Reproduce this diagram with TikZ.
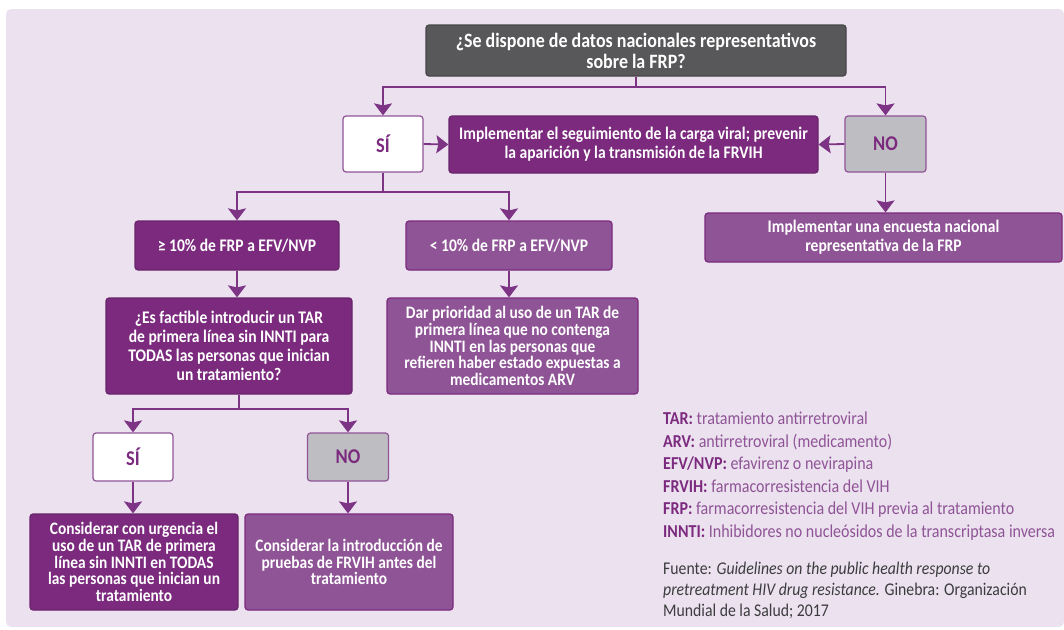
\documentclass[tikz,border=0pt]{standalone}
\usepackage{fontspec}
\setmainfont{Carlito}[FakeStretch=0.88]
\usetikzlibrary{arrows.meta}
\definecolor{bgl}{RGB}{235,225,239}
\definecolor{dpur}{RGB}{123,42,126}
\definecolor{lpur}{RGB}{143,84,150}
\definecolor{lnpur}{RGB}{126,52,132}
\definecolor{tgray}{RGB}{88,88,90}
\definecolor{ngray}{RGB}{190,190,194}
\definecolor{ftxt}{RGB}{60,60,62}
\tikzset{
  box/.style={draw, line width=1.2pt, rounded corners=3pt, inner sep=0pt, align=center, font=\bfseries\fontsize{17.7}{19}\selectfont},
  tightbox/.style={font=\bfseries\fontsize{17.5}{16.6}\selectfont},
  darkbox/.style={box, fill=dpur, draw=dpur!85!black, text=white},
  lightbox/.style={box, fill=lpur, draw=dpur, text=white},
  topbox/.style={box, fill=tgray, draw=tgray!80!black, text=white, font=\bfseries\fontsize{20.4}{21}\selectfont},
  yesbox/.style={box, fill=white, draw=lpur, text=dpur, font=\bfseries\fontsize{21}{21}\selectfont},
  nobox/.style={box, fill=ngray, draw=lpur, text=dpur, font=\bfseries\fontsize{21}{21}\selectfont},
  conn/.style={draw=lnpur, line width=1.8pt},
  arr/.style={conn, -{Stealth[length=12pt, width=18pt, inset=2pt]}},
  leg/.style={anchor=base west, inner sep=0pt, text=lpur, font=\fontsize{18.2}{19}\selectfont},
  src/.style={anchor=base west, inner sep=0pt, text=ftxt, font=\fontsize{17.9}{19}\selectfont},
}
\begin{document}
\begin{tikzpicture}[x=1pt, y=-1pt]
\useasboundingbox (0,0) rectangle (1064,629);
\fill[bgl, rounded corners=5pt] (6,9) rectangle (1064,627);

\node[topbox, minimum width=420pt, minimum height=51pt] (top) at (636,50.5)
  {¿Se dispone de datos nacionales representativos\\sobre la FRP?};
\node[yesbox, minimum width=80pt, minimum height=56pt] (si1) at (383,144) {SÍ};
\node[darkbox, minimum width=369pt, minimum height=57pt] (mid) at (633.5,144.5)
  {Implementar el seguimiento de la carga viral; prevenir\\la aparición y la transmisión de la FRVIH};
\node[nobox, minimum width=81pt, minimum height=56pt] (no1) at (885.5,144) {NO};
\node[lightbox, minimum width=357pt, minimum height=49pt] (enc) at (883.5,237.5)
  {Implementar una encuesta nacional\\representativa de la FRP};
\node[darkbox, minimum width=204pt, minimum height=49pt] (ge) at (237,245.5)
  {≥ 10\% de FRP a EFV/NVP};
\node[lightbox, minimum width=206pt, minimum height=49pt] (lt) at (509,245.5)
  {< 10\% de FRP a EFV/NVP};
\node[darkbox, minimum width=246pt, minimum height=96pt] (q2) at (229,346)
  {¿Es factible introducir un TAR\\de primera línea sin INNTI para\\TODAS las personas que inician\\un tratamiento?};
\node[lightbox, tightbox, minimum width=251pt, minimum height=96pt] (dar) at (512.5,346)
  {Dar prioridad al uso de un TAR de\\primera línea que no contenga\\INNTI en las personas que\\refieren haber estado expuestas a\\medicamentos ARV};
\node[yesbox, minimum width=80pt, minimum height=48pt] (si2) at (133,457) {SÍ};
\node[nobox, minimum width=81pt, minimum height=48pt] (no2) at (348,457) {NO};
\node[darkbox, tightbox, minimum width=208pt, minimum height=96pt] (cu) at (134,562)
  {Considerar con urgencia el\\uso de un TAR de primera\\línea sin INNTI en TODAS\\las personas que inician un\\tratamiento};
\node[lightbox, tightbox, minimum width=208pt, minimum height=96pt] (ci) at (349,562)
  {Considerar la introducción de\\pruebas de FRVIH antes del\\tratamiento};

\coordinate (j1) at (636,87);
\coordinate (j2) at (383,192);
\coordinate (j3) at (239,409);
\draw[conn] (top.south) -- (j1);
\draw[arr] (j1) -| (si1.north);
\draw[arr] (j1) -| (no1.north);
\draw[arr] (si1.east) -- (mid.west);
\draw[arr] (no1.west) -- (mid.east);
\draw[arr] (no1.south) -- (no1.south |- enc.north);
\draw[conn] (si1.south) -- (j2);
\draw[arr] (j2) -| (ge.north);
\draw[arr] (j2) -| (lt.north);
\draw[arr] (ge.south) -- (ge.south |- q2.north);
\draw[arr] (lt.south) -- (lt.south |- dar.north);
\draw[conn] (q2.south -| j3) -- (j3);
\draw[arr] (j3) -| (si2.north);
\draw[arr] (j3) -| (no2.north);
\draw[arr] (si2.south) -- (si2.south |- cu.north);
\draw[arr] (no2.south) -- (no2.south |- ci.north);

\node[leg] (l1) at (663,424) {\textbf{\color{dpur}TAR:} tratamiento antirretroviral};
\node[leg] (l2) at (663,447) {\textbf{\color{dpur}ARV:} antirretroviral (medicamento)};
\node[leg] (l3) at (663,469.5) {\textbf{\color{dpur}EFV/NVP:} efavirenz o nevirapina};
\node[leg] (l4) at (663,492) {\textbf{\color{dpur}FRVIH:} farmacorresistencia del VIH};
\node[leg] (l5) at (663,514.5) {\textbf{\color{dpur}FRP:} farmacorresistencia del VIH previa al tratamiento};
\node[leg] (l6) at (663,537) {\textbf{\color{dpur}INNTI:} Inhibidores no nucleósidos de la transcriptasa inversa};
\node[src] (s1) at (663,574) {Fuente: \textit{Guidelines on the public health response to}};
\node[src] (s2) at (663,595) {\textit{pretreatment HIV drug resistance.} Ginebra: Organización};
\node[src] (s3) at (663,616) {Mundial de la Salud; 2017};
\end{tikzpicture}
\end{document}
